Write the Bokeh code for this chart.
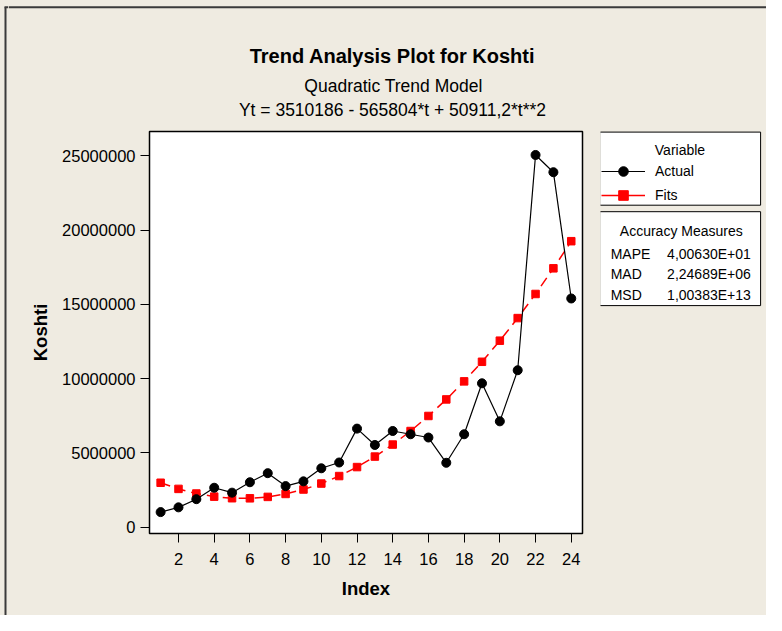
from bokeh.plotting import figure
from bokeh.models import (ColumnDataSource, Legend, LegendItem, FixedTicker,
                          BasicTickFormatter, Range1d)
from bokeh.layouts import row, column
from bokeh.core.properties import value
from bokeh.embed import file_html
from bokeh.resources import INLINE

# ---------------- data ----------------
index = list(range(1, 25))
actual = [1020000, 1340000, 1890000, 2660000, 2330000, 3030000, 3640000, 2770000,
          3090000, 3970000, 4360000, 6640000, 5540000, 6480000, 6260000, 6040000,
          4340000, 6260000, 9690000, 7130000, 10570000, 25060000, 23900000, 15400000]
fits = [2995293, 2582223, 2270975, 2061549, 1953946, 1948165, 2044207, 2242071,
        2541757, 2943266, 3446597, 4051751, 4758727, 5567525, 6478146, 7490589,
        8604855, 9820943, 11138853, 12558586, 14080141, 15703519, 17428719, 19255741]
x_ticks = [2, 4, 6, 8, 10, 12, 14, 16, 18, 20, 22, 24]
y_ticks = [0, 5000000, 10000000, 15000000, 20000000, 25000000]
title_main = "Trend Analysis Plot for Koshti"
title_sub = "Quadratic Trend Model"
title_eq = "Yt = 3510186 - 565804*t + 50911,2*t**2"
series_names = ["Actual", "Fits"]
measure_names = ["MAPE", "MAD", "MSD"]
measure_values = ["4,00630E+01", "2,24689E+06", "1,00383E+13"]

FONT = "Liberation Sans"
BEIGE = "#EFEBE1"
EDGE = "#3a3a3a"
W, H = 766, 615
STRIP = 8
HEAD_H = 126
MAIN_W = 592
BG = {"background-color": BEIGE}


def blank(width, height, x0, x1, y0, y1):
    f = figure(output_backend="svg", toolbar_location=None, width=width, height=height,
               x_range=Range1d(x0, x1), y_range=Range1d(y1, y0),
               x_axis_type=None, y_axis_type=None, min_border=0)
    f.outline_line_color = None
    f.background_fill_color = BEIGE
    f.border_fill_color = BEIGE
    f.frame_align = False
    return f


def txt(f, x, y, s, size, align="center", style="normal"):
    f.text(x=[x], y=[y], text=[s], text_font=value(FONT), text_font_size=value(size),
           text_font_style=style, text_align=align, text_baseline="middle",
           text_color="black")


# ---------------- left strip (window edge) ----------------
strip = blank(STRIP, H, 0, STRIP, 0, H)
strip.segment(x0=[5, 4], y0=[6.8, 6.8], x1=[5, STRIP], y1=[H, 6.8],
              line_color=EDGE, line_width=2)

# ---------------- head (titles) ----------------
head = blank(W - STRIP, HEAD_H, STRIP, W, 0, HEAD_H)
head.segment(x0=[STRIP], y0=[6.8], x1=[W], y1=[6.8], line_color=EDGE, line_width=2)
txt(head, 392, 55.6, title_main, "20px", style="bold")
txt(head, 393, 85.8, title_sub, "17.5px")
txt(head, 392, 109.2, title_eq, "17.5px")

# ---------------- main plot ----------------
src = ColumnDataSource(dict(t=index, actual=actual, fits=fits))

p = figure(output_backend="svg", toolbar_location=None,
           frame_width=433, frame_height=402,
           min_border_left=141, min_border_right=MAIN_W - 141 - 433,
           min_border_top=5, min_border_bottom=H - HEAD_H - 5 - 402,
           x_range=Range1d(0.376, 24.63), y_range=Range1d(-420000, 26640000))
p.frame_align = False
p.border_fill_color = BEIGE
p.background_fill_color = "white"
p.outline_line_color = "black"
p.outline_line_width = 1.5
p.grid.visible = False

for ax in (p.xaxis[0], p.yaxis[0]):
    ax.axis_line_color = None
    ax.major_tick_in = 0
    ax.major_tick_out = 9
    ax.major_tick_line_color = "black"
    ax.major_tick_line_width = 1
    ax.minor_tick_line_color = None
    ax.major_label_text_font = FONT
    ax.major_label_text_font_size = "16.5px"
    ax.major_label_text_color = "black"
    ax.axis_label_text_font = FONT
    ax.axis_label_text_font_style = "bold"
    ax.axis_label_text_font_size = "18.5px"
    ax.axis_label_text_color = "black"

p.xaxis.ticker = FixedTicker(ticks=x_ticks)
p.yaxis.ticker = FixedTicker(ticks=y_ticks)
p.yaxis.formatter = BasicTickFormatter(use_scientific=False)
p.xaxis.axis_label = "Index"
p.yaxis.axis_label = "Koshti"
p.xaxis.major_label_standoff = 10
p.xaxis.axis_label_standoff = 10
p.yaxis.major_label_standoff = 5
p.yaxis.axis_label_standoff = 8

RED_STYLE = dict(line_color="#FF0000", line_width=1.5, line_dash="10 6")
RED_MARK = dict(marker="square", size=7.5, fill_color="#FF0000", line_color="#FF0000")
BLK_STYLE = dict(line_color="black", line_width=1.2)
BLK_MARK = dict(marker="circle", size=9, fill_color="black", line_color="black")

p.line("t", "fits", source=src, **RED_STYLE)
p.scatter("t", "fits", source=src, **RED_MARK)
p.line("t", "actual", source=src, **BLK_STYLE)
p.scatter("t", "actual", source=src, **BLK_MARK)

# ---------------- side panel (legend + accuracy) ----------------
SIDE_X0 = STRIP + MAIN_W
side = blank(W - SIDE_X0, H - HEAD_H, SIDE_X0, W, HEAD_H, H)
side.quad(left=[599.2, 599.2], right=[760.1, 760.1], top=[131.6, 211.2],
          bottom=[204.7, 305.1], fill_color="white", line_color="black", line_width=1)
txt(side, 654.3, 149.1, "Variable", "14px", align="left")

# legend proxies: no visible data, they only carry the styles for the legend keys
proxy = ColumnDataSource(dict(x=[float("nan")], y=[float("nan")]))
la = side.line("x", "y", source=proxy, **BLK_STYLE)
ma = side.scatter("x", "y", source=proxy, **BLK_MARK)
lf = side.line("x", "y", source=proxy, **{**RED_STYLE, "line_dash": "solid"})
mf = side.scatter("x", "y", source=proxy, **RED_MARK)
legend = Legend(items=[LegendItem(label=series_names[0], renderers=[la, ma]),
                       LegendItem(label=series_names[1], renderers=[lf, mf])],
                location=(1, H - 207), padding=0, margin=0,
                border_line_alpha=0, background_fill_alpha=0,
                glyph_width=44, glyph_height=24, label_height=24, spacing=0,
                label_standoff=10, label_text_font=FONT, label_text_font_size="14px",
                label_text_color="black")
side.add_layout(legend)

txt(side, 680.8, 230.7, "Accuracy Measures", "14px")
for i, (name, val) in enumerate(zip(measure_names, measure_values)):
    y = 253.4 + i * 20.3
    txt(side, 610.2, y, name, "14px", align="left")
    txt(side, 750.3, y, val, "14px", align="right")

layout = row(strip, column(head, row(p, side, styles=BG, spacing=0),
                           styles=BG, spacing=0),
             styles=BG, spacing=0)
open("out.html", "w").write(file_html(layout, INLINE))
